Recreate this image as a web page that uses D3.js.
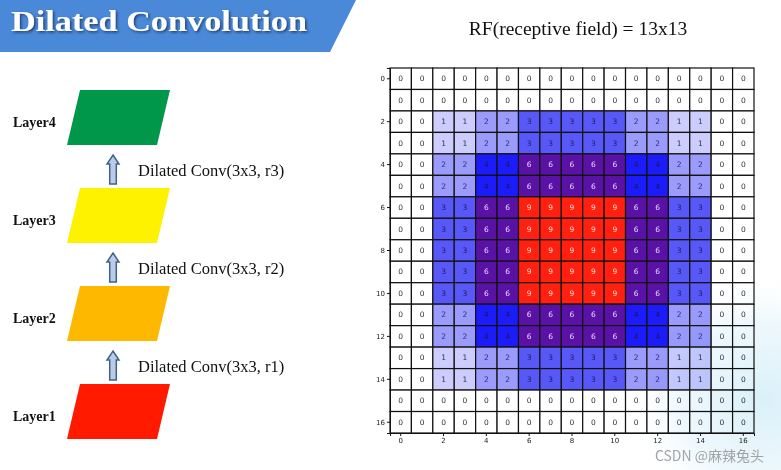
<!DOCTYPE html>
<html><head><meta charset="utf-8">
<script src="https://cdn.jsdelivr.net/npm/d3@7"></script>
<style>
html,body{margin:0;padding:0;background:#fff;}
svg{display:block;}
</style></head>
<body>
<script>
// ---- data ----
const gridValues = [
 [0,0,0,0,0,0,0,0,0,0,0,0,0,0,0,0,0],
 [0,0,0,0,0,0,0,0,0,0,0,0,0,0,0,0,0],
 [0,0,1,1,2,2,3,3,3,3,3,2,2,1,1,0,0],
 [0,0,1,1,2,2,3,3,3,3,3,2,2,1,1,0,0],
 [0,0,2,2,4,4,6,6,6,6,6,4,4,2,2,0,0],
 [0,0,2,2,4,4,6,6,6,6,6,4,4,2,2,0,0],
 [0,0,3,3,6,6,9,9,9,9,9,6,6,3,3,0,0],
 [0,0,3,3,6,6,9,9,9,9,9,6,6,3,3,0,0],
 [0,0,3,3,6,6,9,9,9,9,9,6,6,3,3,0,0],
 [0,0,3,3,6,6,9,9,9,9,9,6,6,3,3,0,0],
 [0,0,3,3,6,6,9,9,9,9,9,6,6,3,3,0,0],
 [0,0,2,2,4,4,6,6,6,6,6,4,4,2,2,0,0],
 [0,0,2,2,4,4,6,6,6,6,6,4,4,2,2,0,0],
 [0,0,1,1,2,2,3,3,3,3,3,2,2,1,1,0,0],
 [0,0,1,1,2,2,3,3,3,3,3,2,2,1,1,0,0],
 [0,0,0,0,0,0,0,0,0,0,0,0,0,0,0,0,0],
 [0,0,0,0,0,0,0,0,0,0,0,0,0,0,0,0,0]
];
const rowIndex = d3.range(17);
const colIndex = d3.range(17);
const tickLabels = [0,2,4,6,8,10,12,14,16];
const valueLevels = [0,1,2,3,4,6,9];
const levelColors = ["#ffffff","#ccccfd","#9b9bfb","#5858f8","#1c1cfa","#5a12a6","#ff2010"];
const levelText = ["#303040","#303060","#303070","#202050","#1a1a50","#e8dcf4","#ffe0d8"];
const layers = ["Layer4","Layer3","Layer2","Layer1"];
const layerColors = ["#00974b","#fff200","#ffb800","#ff1a00"];
const convLabels = ["Dilated Conv(3x3, r3)","Dilated Conv(3x3, r2)","Dilated Conv(3x3, r1)"];
const titleText = "Dilated Convolution";
const rfText = "RF(receptive field) = 13x13";

// ---- drawing ----
const W = 781, H = 470;
const svg = d3.select("body").append("svg").attr("width", W).attr("height", H);
const defs = svg.append("defs");
const rg = defs.append("radialGradient").attr("id","wash").attr("cx","0.5").attr("cy","0.5").attr("r","0.5");
rg.append("stop").attr("offset","0%").attr("stop-color","#d0ecf8").attr("stop-opacity",0.8);
rg.append("stop").attr("offset","60%").attr("stop-color","#e0f2fa").attr("stop-opacity",0.55);
rg.append("stop").attr("offset","100%").attr("stop-color","#ffffff").attr("stop-opacity",0);
const sh = defs.append("filter").attr("id","tshadow").attr("x","-10%").attr("y","-30%").attr("width","120%").attr("height","160%");
sh.append("feDropShadow").attr("dx",1.5).attr("dy",1.5).attr("stdDeviation",1).attr("flood-color","#1a3050").attr("flood-opacity",0.8);

// title banner
svg.append("path").attr("d","M0,0 L356,0 L330,52 L0,52 Z").attr("fill","#4a88d8");
svg.append("text").attr("x",11).attr("y",31).text(titleText)
  .attr("font-family","Liberation Serif, Times New Roman, serif").attr("font-weight","bold")
  .attr("font-size",30).attr("textLength",296).attr("lengthAdjust","spacingAndGlyphs")
  .attr("fill","#ffffff").attr("filter","url(#tshadow)");

// RF title
svg.append("text").attr("x",578).attr("y",35).attr("text-anchor","middle").text(rfText)
  .attr("font-family","Liberation Serif, Times New Roman, serif").attr("font-size",19.5).attr("fill","#111");

// layers (left)
const layerY = d3.scalePoint().domain(layers).range([90, 384]);
const lh = 55;
const lg = svg.append("g");
layers.forEach((name,i)=>{
  const y0 = layerY(name), y1 = y0 + lh;
  lg.append("path").attr("d",`M80,${y0} L170,${y0} L157,${y1} L67,${y1} Z`).attr("fill",layerColors[i]);
  lg.append("text").attr("x",13).attr("y",y0+37).text(name)
    .attr("font-family","Liberation Serif, Times New Roman, serif").attr("font-weight","bold")
    .attr("font-size",14).attr("fill","#111");
});
convLabels.forEach((t,i)=>{
  const yTop = layerY(layers[i]) + lh + 10;
  const ax = 113, hw = 6, sw = 3.3, hh = 9, len = 29;
  lg.append("path").attr("d",
    `M${ax},${yTop} L${ax+hw},${yTop+hh} L${ax+sw},${yTop+hh} L${ax+sw},${yTop+len} L${ax-sw},${yTop+len} L${ax-sw},${yTop+hh} L${ax-hw},${yTop+hh} Z`)
    .attr("fill","#b9cde6").attr("stroke","#41618c").attr("stroke-width",1.5).attr("stroke-linejoin","miter");
  lg.append("text").attr("x",138).attr("y",yTop+21).text(t)
    .attr("font-family","Liberation Serif, Times New Roman, serif").attr("font-size",16.5).attr("fill","#111");
});

// grid
const x = d3.scaleBand().domain(colIndex).range([390, 754]);
const y = d3.scaleBand().domain(rowIndex).range([68, 433]);
const color = d3.scaleOrdinal().domain(valueLevels).range(levelColors);
const tcolor = d3.scaleOrdinal().domain(valueLevels).range(levelText);
const cells = [];
gridValues.forEach((row,r)=>row.forEach((v,c)=>cells.push({r,c,v})));
const g = svg.append("g");
g.selectAll("rect.cell").data(cells).join("rect").attr("class","cell")
  .attr("x",d=>x(d.c)).attr("y",d=>y(d.r)).attr("width",x.bandwidth()).attr("height",y.bandwidth())
  .attr("fill",d=>color(d.v)).attr("stroke","#111").attr("stroke-width",1.2);
g.selectAll("text.val").data(cells).join("text").attr("class","val")
  .attr("x",d=>x(d.c)+x.bandwidth()/2).attr("y",d=>y(d.r)+y.bandwidth()/2+2.5)
  .attr("text-anchor","middle").attr("font-family","DejaVu Sans, sans-serif").attr("font-size",7.5)
  .attr("fill",d=>tcolor(d.v)).text(d=>d.v);

// watercolor wash bottom right
svg.append("ellipse").attr("cx",765).attr("cy",400).attr("rx",140).attr("ry",130)
  .attr("fill","url(#wash)").style("mix-blend-mode","multiply");

// axes
const yAxis = d3.axisLeft(y).tickValues(tickLabels).tickSize(3).tickPadding(2);
const xAxis = d3.axisBottom(x).tickValues(tickLabels).tickSize(3).tickPadding(2);
const ya = svg.append("g").attr("transform","translate(390,0)").call(yAxis);
const xa = svg.append("g").attr("transform","translate(0,433)").call(xAxis);
[ya,xa].forEach(a=>{
  a.select(".domain").attr("stroke","#111").attr("stroke-width",1);
  a.selectAll(".tick line").attr("stroke","#111");
  a.selectAll(".tick text").attr("font-family","DejaVu Sans, sans-serif").attr("font-size",7).attr("fill","#222");
});

// watermark
svg.append("text").attr("x",764).attr("y",461).attr("text-anchor","end").text("CSDN @麻辣兔头")
  .attr("font-family","Noto Sans CJK SC, Noto Sans, sans-serif").attr("font-size",14).attr("fill","#9a9a9a").attr("opacity",0.9);
</script>
</body></html>
